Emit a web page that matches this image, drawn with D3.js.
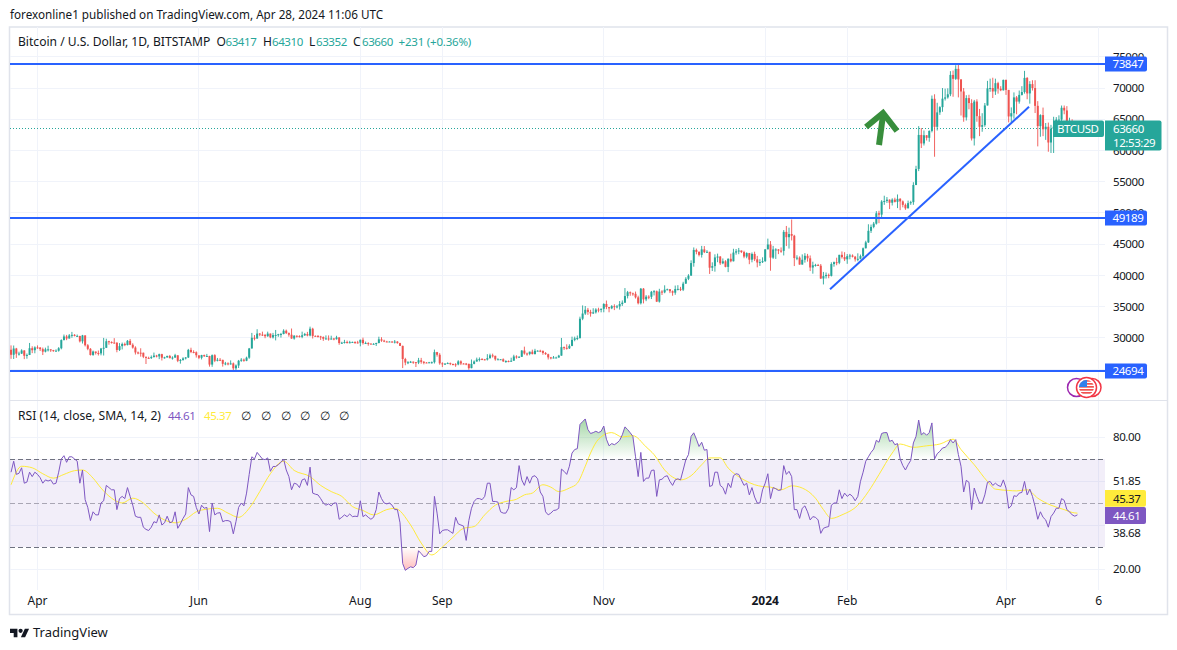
<!DOCTYPE html>
<html><head><meta charset="utf-8">
<script src="https://cdn.jsdelivr.net/npm/d3@7"></script>
<style>html,body{margin:0;padding:0;background:#fff}svg{display:block}text{font-family:"Noto Sans",sans-serif;fill:#131722}</style>
</head><body><div id="chart"></div>
<script>
const firstOpen=28100;
const closeValues=[27300,28300,27470,27490,27990,27140,27270,28350,28030,28480,
28450,28200,27800,28170,28170,28040,27920,27950,28340,29650,30230,29900,30400,30490,30320,30320,29450,30400,28820,28250,27270,27820,27590,27520,28300,28420,29470,29340,29250,29230,
28070,28680,29030,28850,29530,28900,28450,27670,27630,27620,26980,26800,26780,26930,27170,27040,27400,26830,26890,27110,26750,26850,27220,26330,26470,26720,26870,28080,27740,27700,27220,
26820,27250,27070,27110,25730,27230,26340,26500,26480,25850,25920,25900,25920,25130,25580,26340,26510,26340,26840,28310,30020,29900,30690,30530,30470,30270,30690,30080,30450,30470,
30590,30620,31150,30770,30510,29900,30350,30290,30170,30420,30620,30380,31470,30320,30290,30240,30140,29860,29910,29800,29900,29790,30080,29180,29230,29350,29220,29310,29350,29280,29230,
29700,29170,29180,29090,29040,29050,29180,29770,29560,29420,29400,29420,29280,29410,29170,28720,26620,26050,26100,26190,26120,26040,26420,26160,26060,26010,26090,26110,27720,27300,25930,
25800,25870,25970,25820,25780,25750,26240,25900,25890,25840,25160,25840,26220,26530,26610,26570,26530,26760,27210,27130,26570,26580,26580,26250,26300,26210,26350,27030,26910,26970,
27970,27500,27430,27790,27410,27940,27950,27920,27590,27390,26880,26750,26860,26860,27160,28520,28410,28330,28720,29680,29920,29990,33070,33900,34500,34160,33910,34090,34540,34490,34660,
35430,34940,34730,35080,35040,35040,35420,35640,36700,37310,37130,37060,36490,35550,37880,36170,36600,36580,37380,37470,35810,37420,37290,37720,37790,37470,37240,37820,37850,37720,
38690,39460,39970,41980,44080,43770,43290,44170,43720,43790,41240,41490,42880,43020,41940,42260,41370,42660,42270,43660,43860,43990,43740,43020,43580,42520,43440,42580,42070,42140,42280,
44180,44950,42850,44160,44160,43970,43930,46970,46120,46630,46350,42780,42850,41740,42510,43140,42740,41270,41620,41680,41560,39510,39890,40080,39930,41820,42120,42030,43300,42940,42580,
43080,43190,42990,42580,42660,43090,44350,45290,47140,47770,48290,49950,49730,51830,51920,52130,51640,52140,51780,52260,51850,51300,50740,51570,51730,54480,57050,62490,61130,
62440,62030,63130,68280,63790,66100,66940,68300,68500,69000,72100,71470,73070,71380,69450,65300,68390,67590,61930,67840,65500,63800,64060,67210,69950,70000,69450,70780,69890,69640,71300,
69700,65450,65970,68500,67830,68900,69360,71620,69140,70630,70000,67150,63900,65670,63400,63800,61280,63470,63810,64950,64950,66840,66410,64290,64500,63770,63420,63660];
const highValues=[28800,28780,28400,27790,28180,28030,27500,29190,28660,28650,
28800,28530,28450,28440,28750,28190,28080,28170,28520,29770,30540,30480,30620,30960,30600,30540,30320,30480,30400,29010,28370,27970,27800,27980,28390,30000,29870,29540,29450,29960,
29300,29170,29250,29250,29660,29830,29140,28660,27820,28340,27650,26990,26990,27190,27650,27290,27480,27460,26980,27160,27270,27050,27450,27210,26620,26900,26930,28240,28430,28020,27840,
27000,27290,27330,27440,27130,27350,27390,26790,26770,26510,26160,26090,26400,26060,25750,26470,26760,26690,27000,28390,30800,30450,31390,30780,31000,30630,31000,30700,30800,31270,
30650,30800,31380,31330,30870,31500,30440,30380,30420,31000,30800,30960,31800,31620,30400,30460,30330,30240,30400,30400,30350,29990,30340,30100,29380,29690,29570,29530,29410,29450,29530,
29720,30040,29410,29310,29110,29160,29230,30190,30110,29710,29530,29460,29450,29660,29480,29220,28770,26810,26280,26310,26230,26130,26800,26800,26300,26120,26160,26220,28130,27760,27560,
26100,25970,26090,26050,25890,25950,26430,26400,25940,25990,25880,26540,26400,26840,26870,26760,26630,27400,27480,27480,27150,26750,26620,26720,26420,26390,26830,27300,27220,27080,
28050,28600,27650,27800,28120,28250,28020,28100,27990,27730,27470,26950,27100,26990,27290,29990,28620,28970,28980,30200,30200,30380,33400,35200,35100,34800,34500,34750,34750,34830,34700,
35550,35980,34900,35250,35380,35270,35900,36000,37980,37520,37430,37250,37420,36760,37990,37980,36850,36830,37520,37650,37580,37860,37640,38420,37890,37820,37600,38380,38440,38170,
38980,39720,40200,42420,44480,44300,43860,44730,44700,44050,43760,42100,43380,43490,43100,42720,42440,42740,43480,44270,44230,44400,43980,43950,43700,43600,43680,43800,43130,42600,42900,
44200,45890,45500,44730,44350,44220,44480,47260,47920,47650,48950,46500,43230,43050,43370,43570,43450,43200,42200,41860,41850,41830,40560,40470,40300,42100,42220,42840,43300,43840,43720,
43420,43450,43370,43120,43540,43340,44470,45550,48190,48140,48560,50300,50350,52050,52760,52550,52170,52350,52440,52960,52380,52000,51520,51980,51950,54920,57550,63900,63600,
63200,62440,63230,68800,69000,67640,67100,70000,69900,69950,72700,72800,73650,73847,71400,70000,68850,68920,68200,68100,68200,66650,65970,67600,71150,71500,71650,71500,71000,70300,71350,
71350,69700,66900,69300,68720,69600,70300,72750,71750,71100,71250,71250,67900,65800,66870,64400,64470,64100,65400,65350,65630,67200,67200,67100,65250,65000,64000,64310];
const lowValues=[26650,26620,26800,27170,27420,26600,26670,27250,27560,27540,
28250,27900,27260,27680,27830,27760,27780,27880,27800,28170,29600,29640,29900,30020,30240,30150,29270,29100,28630,28030,27170,27130,27340,27180,27210,27180,28380,28910,29090,29090,
27700,27900,28150,28680,28800,28850,28280,27340,27380,27000,26760,25820,26700,26620,26860,26880,26600,26380,26680,26810,26740,26520,26820,26120,25880,26350,26550,26780,27560,27540,26850,
26600,26550,26950,26950,25400,25370,26120,26240,26290,25400,25620,25610,25720,24800,24760,25180,26170,26180,26270,26650,28300,29600,29860,30270,30300,29950,30180,29950,29900,29600,
30180,30050,30570,30620,30200,29850,29720,30050,30060,29950,30300,30250,30250,29900,30220,30080,29680,29520,29760,29560,29730,29620,29730,28900,29040,29100,29090,29120,29270,29040,29100,
28650,28930,29100,28750,28960,28990,28700,29130,29370,29320,29340,29360,29240,29110,29070,28700,25170,25620,25800,25980,25850,25340,25800,25870,25770,25970,25970,25880,25900,27000,25700,
25330,25760,25820,25640,25600,25370,25620,25650,25800,25630,24900,25130,25770,26200,26220,26470,26410,26380,26670,26850,26350,26520,26510,26140,26000,26100,26180,26340,26670,26880,
26950,27320,27150,27220,27360,27350,27870,27720,27300,27290,26540,26570,26740,26800,26830,27150,28080,28130,28220,28670,29460,29640,29880,32840,33680,33690,33400,33830,33900,34090,34090,
34100,34600,34100,34600,34450,34730,34530,35120,35600,36320,36740,36740,36300,35360,35350,35520,35880,36200,36220,36800,35740,35650,36870,37150,37620,37170,36750,36900,37600,37500,
37500,38650,39250,39950,41400,43380,43050,42860,43580,43600,40240,40700,40600,42120,41680,41800,41300,40530,42100,42240,43320,43400,43580,42750,42750,41800,42100,42300,41300,41530,41990,
42180,44180,40750,42650,42640,43410,43630,43200,44700,44300,45600,41500,42450,41720,41730,42050,42210,40700,40280,41420,41510,39430,38560,39500,39550,39830,41400,41630,41800,42700,42300,
41860,42580,42880,42220,42270,42570,42800,44320,45200,46800,47550,48140,48370,49250,51300,51600,50620,51200,51680,50780,50450,50900,50500,50750,51300,51300,54450,56700,60400,
60800,61600,61400,62900,59000,63200,65700,66200,68000,68300,68700,68600,71300,68500,65600,64600,64800,66600,61600,60800,64600,62300,63000,63800,67200,69400,68400,68900,69100,69500,69600,
68900,64500,64500,65100,65800,67500,68800,69100,68200,67500,69600,66000,60660,62200,62300,61700,59800,59600,59600,63600,64500,64500,65800,63800,63400,62800,62400,63352];
const rsiValues=[64,69,63,63.5,66,59,59.5,64,62,64,
63,61.5,59,60.5,60,60.5,58.6,59,64,70,
71.5,68.5,71,71,70,69,59,65,51.5,48,
42,46,44.6,44.6,50,51,58,57,56,56,
47,52,53,52,57,53,49,44,43.5,43.5,
39,38,37.5,39,41.5,41,44.6,40,41,44,
41,41.5,46,38.5,40.5,43,45,57,53.7,53,
48,45,49,47.6,48,37,50,44.6,45.4,45.6,
41.5,42,42,41.5,36,41.5,48,50,48.7,54.5,
63,71,70,73,71.5,70,69.7,70.5,64.4,66.6,
66.6,67.4,68.5,70,65,62,56,59,58.6,57,
60.5,61,58,66.3,54.5,54,53.7,52,50,49,
49.6,48.7,50,50,42.6,43.5,44.6,43.8,45,43.8,
44,43.8,51,43.8,44.6,43.5,42.6,43.5,47,55,
52,50,49.6,50,49,47,47,41,22.5,19.4,
20.3,21,20.6,21.8,28.3,27,25.6,26,28,28,
53,45.4,36,37.5,37.8,37.8,37,36.2,43.5,40.5,
40,39.5,33,42,47.6,50.7,52,52,51.5,53,
59,59,50.7,50.7,50.4,46,45.4,45.4,47.6,57,
56,57,67,60.5,58,62,59,62,62.4,61,
55,53,46,44.6,45.4,46.6,46.8,47.6,65.4,64.4,
63,66.7,72.7,74.3,74.7,85.7,87,88.2,83.4,81.6,
82,82.6,82,82.6,85,79,76,77,76.5,77.3,
78.5,81,84.6,83.4,81.9,80.3,71,62,73,59.8,
61.3,61.3,64.8,65,53,60.5,60.8,62,62.4,59.8,
58,60.5,61,60.5,65,69.7,72,80.3,81.9,79,
75.7,77.6,74,74.3,57.5,58,64,64,58,57,
54,59,57,62.4,63.3,63,60.5,58,59,53.7,
57,52.7,50,50,56,59,63.3,52,57,56.5,
55.7,56,67,63,64.4,62,47,47,43,47.6,
48.7,46,42.3,43.8,43.5,42.3,36.2,38.5,39,39.3,
49,50,50,56,52,54.5,53,54,53,51,
53,59.8,64,69,71,73,74.5,78.5,77.6,81.6,
82,82,78,78.5,76.5,77,70,67,65,67.4,
69.4,77.3,80.3,87.7,81,82,80.8,82,86.4,70,
72.4,73.5,75,75.3,76.5,78.8,77.3,78.8,72,66.7,
55,60.3,59.4,47,56.8,53,50,50,53.7,59.4,
59.8,58,59,58,57.5,60.5,56.8,47.6,48.7,53.3,
53,54.5,54.8,59.8,53.7,56.3,53,48.4,42.6,46,
43.5,42.3,39,43.8,45.4,47.6,47.6,52,51.2,47,
46,44.6,44,44.61];
const rsiMaDays=[0,4,8,12,16,20,24,27,31,34,38,42,46,50,54,58,62,66,70,74,78,82,86,90,94,98,103,107,113,117,121,125,129,133,137,142,145,151,155,159,163,167,171,175,179,183,187,191,194,197,201,204,207,211,214,217,219,222,227,231,235,240,243,247,250,253,257,261,264,268,271,277,281,284,287,291,295,299,304,307,310,314,320,324,328,333,336,341,346,351,356,359,364,369,372,377,380,384,388,393,398,401,403];
const rsiMaValues=[58.3,66.7,66,63.3,61.3,63,64.7,65,61.3,56.8,52.2,50,52.2,50,45.4,42.3,41,42.6,46,47.2,47.6,45.4,43.5,47.6,55.2,63.3,69,64.8,62,58,55.2,53,48.4,46.6,44.6,47,47.6,40,31.8,26.4,30,34.4,38.5,39.3,44.6,49,50.7,51.7,53.7,54.5,58.3,57.2,55.2,56.8,59,66.7,72.7,79,82,80,80.6,75.5,72,65,61.8,60.5,62.4,67.4,70.5,70.5,65.9,60.5,58.3,57.5,57.2,56,57.8,56.8,52.2,47,43,44.6,49,55.2,62.9,72.7,76.8,75.3,76,76.8,79,74.3,67.4,59.8,56.3,55.7,55.5,56,52.2,49,47,45.7,45.37];

const priceTicks=[75000,70000,65000,60000,55000,50000,45000,40000,35000,30000,25000];
const priceLabelTicks=[75000,70000,65000,60000,55000,50000,45000,40000,35000,30000];
const levelValues=[73847,49189,24694];
const trendDays=[309.5,384.7];
const trendPrices=[37790,66990];
const lastPrice=63660;
const timeTickDays=[10,71,132,163,224,285,316,376,411];
const timeTickLabels=["Apr","Jun","Aug","Sep","Nov","2024","Feb","Apr","6"];
const rsiGridValues=[80,60,40,20];
const rsiBandLines=[70,50,30];
const rsiLabelPositions=[80,60,36.4,20];
const rsiLabelTexts=["80.00","51.85","38.68","20.00"];
const legendOhlc=[["O","63417"],["H","64310"],["L","63352"],["C","63660"]];
const legendOhlcX=[216.5,263,309,353];

const W=1177,H=650,left=10,right=1105,frameR=1167.5,frameT=27,frameB=614.5,sep=400.5,gridB=590;
const UP="#26a69a",DOWN="#ef5350",BLUE="#2962ff",GRID="#f0f3fa",FRAME="#e0e3eb",PURPLE="#7e57c2",YEL="#ffeb3b";
const NUM=-0.42;
const svg=d3.select("#chart").append("svg").attr("width",W).attr("height",H);
const defs=svg.append("defs");
const x=d3.scaleLinear().domain([10,376]).range([37.5,1006]);
const y=d3.scaleLinear().domain([30000,75000]).range([337.9,56.8]);
const r=d3.scaleLinear().domain([20,80]).range([569,437]);

defs.append("clipPath").attr("id","pane").append("rect").attr("x",left).attr("y",frameT).attr("width",right-left).attr("height",sep-frameT);
defs.append("clipPath").attr("id","above").append("rect").attr("x",left).attr("y",sep).attr("width",right-left).attr("height",r(70)-sep);
defs.append("clipPath").attr("id","below").append("rect").attr("x",left).attr("y",r(30)).attr("width",right-left).attr("height",gridB-r(30));
const g1=defs.append("linearGradient").attr("id","gOver").attr("gradientUnits","userSpaceOnUse").attr("x1",0).attr("x2",0).attr("y1",r(88)).attr("y2",r(70));
g1.append("stop").attr("offset",0).attr("stop-color","#4caf50").attr("stop-opacity",.5);
g1.append("stop").attr("offset",1).attr("stop-color","#4caf50").attr("stop-opacity",0);
const g2=defs.append("linearGradient").attr("id","gUnder").attr("gradientUnits","userSpaceOnUse").attr("x1",0).attr("x2",0).attr("y1",r(19)).attr("y2",r(30));
g2.append("stop").attr("offset",0).attr("stop-color","#ff5252").attr("stop-opacity",.4);
g2.append("stop").attr("offset",1).attr("stop-color","#ff5252").attr("stop-opacity",0);

// frame
svg.append("rect").attr("x",left-.5).attr("y",frameT).attr("width",frameR-left+.5).attr("height",frameB-frameT).attr("fill","#fff").attr("stroke",FRAME).attr("stroke-width",1.5);
// gridlines
const grid=svg.append("g").attr("stroke",GRID).attr("stroke-width",1).attr("shape-rendering","crispEdges");
grid.selectAll(".v").data(timeTickDays).join("line").attr("x1",d=>x(d)).attr("x2",d=>x(d)).attr("y1",frameT).attr("y2",gridB);
grid.selectAll(".h").data(priceTicks).join("line").attr("x1",left).attr("x2",right).attr("y1",d=>y(d)).attr("y2",d=>y(d));
grid.selectAll(".r").data(rsiGridValues).join("line").attr("x1",left).attr("x2",right).attr("y1",d=>r(d)).attr("y2",d=>r(d));
svg.append("line").attr("x1",left).attr("x2",frameR).attr("y1",sep).attr("y2",sep).attr("stroke",FRAME).attr("stroke-width",1.2);

// last price dotted
const lastY=Math.round(y(lastPrice))+.5;
svg.append("line").attr("x1",left).attr("x2",right).attr("y1",lastY).attr("y2",lastY).attr("stroke",UP).attr("stroke-width",1).attr("stroke-dasharray","1 2");

// candles
const candles=svg.append("g").attr("clip-path","url(#pane)");
const ohlc=closeValues.map((c,i)=>({i,c,o:i?closeValues[i-1]:firstOpen,h:highValues[i],l:lowValues[i]}));
candles.selectAll("line").data(ohlc).join("line").attr("x1",d=>x(d.i)).attr("x2",d=>x(d.i)).attr("y1",d=>y(d.h)).attr("y2",d=>y(d.l))
 .attr("stroke",d=>d.c>=d.o?UP:DOWN).attr("stroke-width",.9);
candles.selectAll("rect").data(ohlc).join("rect").attr("x",d=>x(d.i)-1).attr("width",2)
 .attr("y",d=>y(Math.max(d.o,d.c))).attr("height",d=>Math.max(1,Math.abs(y(d.o)-y(d.c))))
 .attr("fill",d=>d.c>=d.o?UP:DOWN);

// level lines
svg.append("g").selectAll("line").data(levelValues).join("line").attr("x1",left).attr("x2",right).attr("y1",d=>y(d)).attr("y2",d=>y(d)).attr("stroke",BLUE).attr("stroke-width",2);
// trend line
svg.append("line").attr("x1",x(trendDays[0])).attr("x2",x(trendDays[1])).attr("y1",y(trendPrices[0])).attr("y2",y(trendPrices[1])).attr("stroke",BLUE).attr("stroke-width",2);
// arrow drawing
const arrow=svg.append("g").attr("fill","none").attr("stroke","#388e3c").attr("stroke-width",6);
arrow.append("path").attr("d","M879 145L883 115");
arrow.append("path").attr("d","M866 127L883 113L897 131");

// RSI
svg.append("rect").attr("x",left).attr("width",right-left).attr("y",r(70)).attr("height",r(30)-r(70)).attr("fill",PURPLE).attr("opacity",.1);
svg.append("g").selectAll("line").data(rsiBandLines).join("line").attr("x1",left).attr("x2",right).attr("y1",d=>Math.round(r(d))+.5).attr("y2",d=>Math.round(r(d))+.5)
 .attr("stroke",d=>d===50?"#a9a6b4":"#6f7280").attr("stroke-width",1).attr("stroke-dasharray","5 3");
const areaOver=d3.area().x((d,i)=>x(i)).y0(r(70)).y1(d=>r(d));
const areaUnder=d3.area().x((d,i)=>x(i)).y0(r(30)).y1(d=>r(d));
svg.append("path").attr("clip-path","url(#above)").attr("d",areaOver(rsiValues)).attr("fill","url(#gOver)");
svg.append("path").attr("clip-path","url(#below)").attr("d",areaUnder(rsiValues)).attr("fill","url(#gUnder)");
svg.append("path").attr("d",d3.line().x((d,i)=>x(rsiMaDays[i])).y(d=>r(d)).curve(d3.curveMonotoneX)(rsiMaValues)).attr("fill","none").attr("stroke",YEL).attr("stroke-width",1);
svg.append("path").attr("d",d3.line().x((d,i)=>x(i)).y(d=>r(d))(rsiValues)).attr("fill","none").attr("stroke",PURPLE).attr("stroke-width",1);

// event badges
const ev=svg.append("g");
ev.append("circle").attr("cx",1076.5).attr("cy",387.5).attr("r",9).attr("fill","#fff").attr("stroke","#9c27b0").attr("stroke-width",1.5);
ev.append("circle").attr("cx",1092).attr("cy",387.5).attr("r",9).attr("fill","#fff").attr("stroke","#f23645").attr("stroke-width",1.5);
ev.append("circle").attr("cx",1086.5).attr("cy",387.5).attr("r",10).attr("fill","#fff").attr("stroke","#f23645").attr("stroke-width",1.5);
defs.append("clipPath").attr("id","flag").append("circle").attr("cx",1086.5).attr("cy",387.5).attr("r",7.5);
const fl=ev.append("g").attr("clip-path","url(#flag)");
[380,383,386,389,392].forEach(v=>fl.append("rect").attr("x",1078).attr("y",v).attr("width",18).attr("height",1.7).attr("fill","#f0524f"));
fl.append("rect").attr("x",1078).attr("y",380).attr("width",9).attr("height",7).attr("fill","#2f80ed");

// axes
const axisStyle=g=>{g.select(".domain").remove();g.selectAll(".tick line").remove();g.selectAll("text").attr("font-size",11.5).style("letter-spacing",NUM+"px").attr("fill","#131722")};
svg.append("g").attr("transform",`translate(${right},0)`).call(d3.axisRight(y).tickValues(priceLabelTicks).tickSize(0).tickPadding(8).tickFormat(d3.format("d"))).call(axisStyle);
svg.append("g").attr("transform",`translate(${right},0)`).call(d3.axisRight(r).tickValues(rsiLabelPositions).tickSize(0).tickPadding(8).tickFormat((d,i)=>rsiLabelTexts[i])).call(axisStyle);
svg.append("g").attr("transform",`translate(-0.5,${gridB+2})`).call(d3.axisBottom(x).tickValues(timeTickDays).tickSize(0).tickPadding(4).tickFormat((d,i)=>timeTickLabels[i])).call(axisStyle)
 .selectAll("text").style("letter-spacing","0px").attr("font-size",12).attr("font-weight",(d,i)=>timeTickLabels[i]==="2024"?"700":"400");

// tags
function tag(x0,x1,y0,y1,fill,lines,tx,fc){
 const g=svg.append("g");
 g.append("path").attr("d",`M${x0} ${y0}H${x1-2}Q${x1} ${y0} ${x1} ${y0+2}V${y1-2}Q${x1} ${y1} ${x1-2} ${y1}H${x0}Z`).attr("fill",fill);
 lines.forEach(([t,yy])=>g.append("text").attr("x",tx).attr("y",yy).attr("font-size",11.5).style("letter-spacing",NUM+"px").style("fill",fc).text(t));
}
levelValues.forEach(v=>{const c=y(v);tag(right,1147,c-7.5,c+7.5,BLUE,[[String(v),c+4.2]],1112.5,"#fff")});
tag(1053,1104,120.5,137,UP,[["BTCUSD",133]],1057,"#fff");
tag(right,1161.5,120.5,150.5,UP,[["63660",133],["12:53:29",147]],1113,"#fff");
tag(right,1146,490,506.7,YEL,[["45.37",502.5]],1113,"#131722");
tag(right,1146,507,524,PURPLE,[["44.61",519.5]],1113,"#fff");

// header + legends
const T=(x0,y0,t,fill,size=12,ls=0)=>svg.append("text").attr("x",x0).attr("y",y0).attr("font-size",size).style("letter-spacing",ls+"px").style("fill",fill||"#131722").text(t);
T(10,19,"forexonline1 published on TradingView.com, Apr 28, 2024 11:06 UTC",null,11.7);
T(18,46,"Bitcoin / U.S. Dollar, 1D, BITSTAMP",null,12.1);
legendOhlc.forEach(([k,v],i)=>{T(legendOhlcX[i],46,k,null,12);T(legendOhlcX[i]+(k==="L"?7:9),46,v,UP,11.5,NUM)});
T(398.5,46,"+231 (+0.36%)",UP,11.5,-0.2);
T(18,420,"RSI (14, close, SMA, 14, 2)",null,12.1);
T(168,420,"44.61",PURPLE,11.5,NUM);
T(204,420,"45.37",YEL,11.5,NUM);
[245,265,284.5,304,323.5,343].forEach(px=>T(px-4,420,"∅",null,12));

// logo
const logo=svg.append("g").attr("transform","translate(10,625.5) scale(.53)").attr("fill","#131722");
logo.append("path").attr("d","M14 6H0v8h7v8h7V6Z");
logo.append("circle").attr("cx",20).attr("cy",10).attr("r",4);
logo.append("path").attr("d","M28 6h8l-7.5 16h-8L28 6Z");
T(33,637,"TradingView",null,13);
</script></body></html>
